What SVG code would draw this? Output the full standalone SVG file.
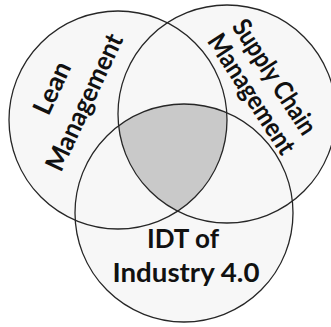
<svg xmlns="http://www.w3.org/2000/svg" width="331" height="327" viewBox="0 0 331 327">
  <defs>
    <style>
      .area { fill: #f7f7f7; stroke: none; }
      .ring { fill: none; stroke: #262626; stroke-width: 1.3; }
      .core { fill: #c9c9c9; stroke: none; }
      .label { font-family: "Lato", "Open Sans", "Liberation Sans", sans-serif; font-weight: bold; font-size: 26px; fill: #111; text-anchor: middle; }
    </style>
    <clipPath id="clip-lean"><circle cx="118" cy="120" r="109"/></clipPath>
    <clipPath id="clip-scm"><circle cx="227" cy="114" r="109"/></clipPath>
  </defs>
  <rect width="331" height="327" fill="#ffffff"/>

  <!-- shared fills under the outlines -->
  <g id="fills">
    <circle class="area" cx="118" cy="120" r="109"/>
    <circle class="area" cx="227" cy="114" r="109"/>
    <circle class="area" cx="184" cy="213" r="109"/>
    <!-- region shared by all three sets -->
    <g clip-path="url(#clip-lean)">
      <g clip-path="url(#clip-scm)">
        <circle class="core" cx="184" cy="213" r="109"/>
      </g>
    </g>
  </g>

  <g id="lean">
    <circle class="ring" cx="118" cy="120" r="109"/>
    <text class="label" transform="translate(52,88) rotate(-65)" y="9" textLength="55" lengthAdjust="spacingAndGlyphs">Lean</text>
    <text class="label" transform="translate(86,103) rotate(-65)" y="7" textLength="148" lengthAdjust="spacingAndGlyphs">Management</text>
  </g>

  <g id="scm">
    <circle class="ring" cx="227" cy="114" r="109"/>
    <text class="label" transform="translate(273,78) rotate(57)" y="7" textLength="132" lengthAdjust="spacingAndGlyphs">Supply Chain</text>
    <text class="label" transform="translate(250,95) rotate(57)" y="7" textLength="138" lengthAdjust="spacingAndGlyphs">Management</text>
  </g>

  <g id="idt">
    <circle class="ring" cx="184" cy="213" r="109"/>
    <text class="label" x="183" y="248" textLength="72" lengthAdjust="spacingAndGlyphs">IDT of</text>
    <text class="label" x="186" y="282" textLength="147" lengthAdjust="spacingAndGlyphs">Industry 4.0</text>
  </g>
</svg>
